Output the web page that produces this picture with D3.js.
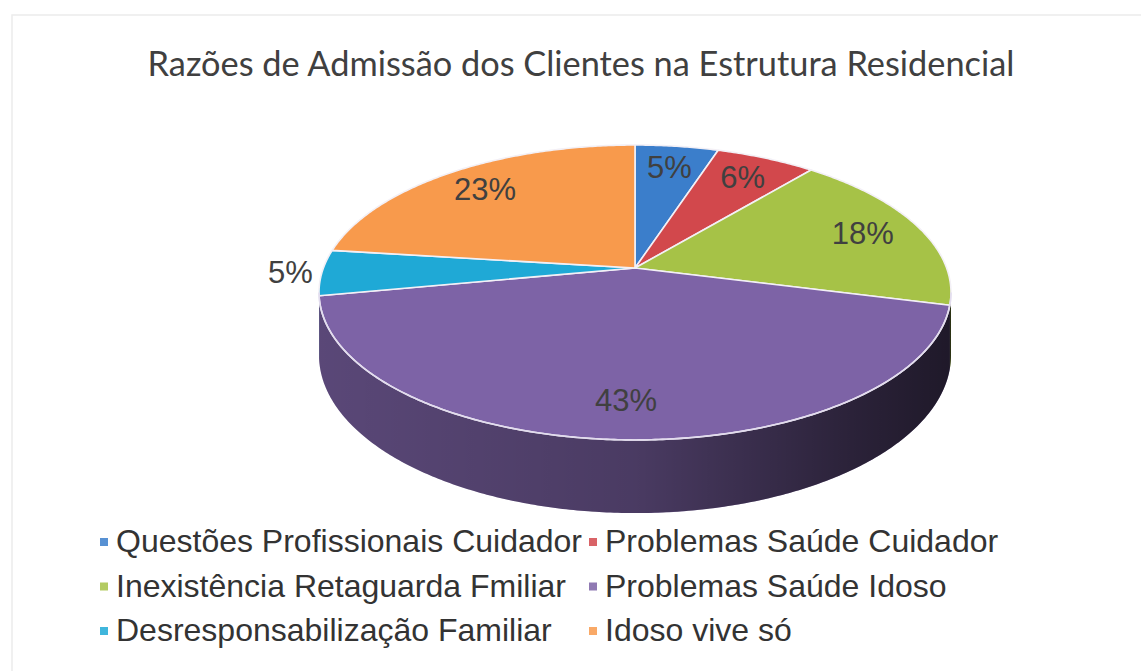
<!DOCTYPE html>
<html>
<head>
<meta charset="utf-8">
<script src="https://cdn.jsdelivr.net/npm/d3@7"></script>
<style>
  html, body { margin: 0; padding: 0; background: #fff; }
  svg { display: block; }
</style>
</head>
<body>
<svg id="chart"></svg>
<script>
// chart data
let title = "Razões de Admissão dos Clientes na Estrutura Residencial";
let categories = ["Questões Profissionais Cuidador", "Problemas Saúde Cuidador",
  "Inexistência Retaguarda Fmiliar", "Problemas Saúde Idoso",
  "Desresponsabilização Familiar", "Idoso vive só"];
let values = [5, 6, 18, 43, 5, 23];
let colors = ["#3b7ecb", "#d2484c", "#a6c247", "#7d63a6", "#1fa9d6", "#f89a4c"];

let W = 1141, H = 671;
let svg = d3.select("#chart").attr("width", W).attr("height", H);

// faint frame of the scanned chart area
svg.append("rect")
  .attr("x", 12).attr("y", 15).attr("width", W).attr("height", H)
  .attr("fill", "none").attr("stroke", "#ececec").attr("stroke-width", 1.5);

// title
let t = svg.append("text")
  .attr("x", 581).attr("y", 62)
  .attr("text-anchor", "middle").attr("dominant-baseline", "central")
  .style("font-family", "Lato, 'Open Sans', sans-serif")
  .style("font-size", "30px").attr("fill", "#404040")
  .text(title);
let tw = t.node().getComputedTextLength();
t.style("font-size", (30 * 867 / tw) + "px");

// perspective projection of the pie disc
let cx = 635, cy = 268, sx = 311.6, sy = 143.4, persp = 0.166, depth = 61;
let project = function (ang, r, drop) {
  let X = r * Math.sin(ang), Z = r * Math.cos(ang);
  let w = 1 + persp * Z;
  return [cx + sx * X / w, cy - sy * Z / w + (drop ? depth / w : 0)];
};
let arcPts = function (a0, a1, drop) {
  let n = Math.max(2, Math.ceil((a1 - a0) / 0.01));
  return d3.range(n + 1).map(i => project(a0 + (a1 - a0) * i / n, 1, drop));
};

let pie = d3.pie().sort(null).startAngle(0).endAngle(2 * Math.PI);
let slices = pie(values);

let line = d3.line();
let sideFrom = Math.acos(-persp), sideTo = 2 * Math.PI - Math.acos(-persp);

let defs = svg.append("defs");
let grad = defs.append("linearGradient").attr("id", "sideShade")
  .attr("gradientUnits", "userSpaceOnUse")
  .attr("x1", cx - sx).attr("x2", cx + sx).attr("y1", 0).attr("y2", 0);
grad.append("stop").attr("offset", 0).attr("stop-color", "#000").attr("stop-opacity", 0.2);
grad.append("stop").attr("offset", 0.5).attr("stop-color", "#000").attr("stop-opacity", 0.34);
grad.append("stop").attr("offset", 0.85).attr("stop-color", "#000").attr("stop-opacity", 0.62);
grad.append("stop").attr("offset", 1).attr("stop-color", "#000").attr("stop-opacity", 0.72);

// side walls (front only)
let sideGroup = svg.append("g").attr("class", "sides");
slices.forEach((s, i) => {
  let a0 = Math.max(s.startAngle, sideFrom), a1 = Math.min(s.endAngle, sideTo);
  if (a1 <= a0) return;
  let pts = arcPts(a0, a1, false).concat(arcPts(a0, a1, true).reverse());
  sideGroup.append("path").attr("d", line(pts) + "Z")
    .attr("fill", d3.color(colors[i]).darker(0.3));
});
let wall = arcPts(sideFrom, sideTo, false).concat(arcPts(sideFrom, sideTo, true).reverse());
sideGroup.append("path").attr("d", line(wall) + "Z").attr("fill", "url(#sideShade)");

// top face
let topGroup = svg.append("g").attr("class", "top");
slices.forEach((s, i) => {
  let pts = [[cx, cy]].concat(arcPts(s.startAngle, s.endAngle, false));
  topGroup.append("path").attr("d", line(pts) + "Z")
    .attr("fill", colors[i])
    .attr("stroke", "#f3f0f6").attr("stroke-width", 1.6).attr("stroke-linejoin", "round");
});
// light rim edge along the front
topGroup.append("path").attr("d", line(arcPts(sideFrom, sideTo, false)))
  .attr("fill", "none").attr("stroke", "#e2dcee").attr("stroke-width", 1.6);

// data labels
let labelGroup = svg.append("g").attr("class", "labels");
slices.forEach((s, i) => {
  let mid = (s.startAngle + s.endAngle) / 2;
  let sideways = Math.abs(Math.sin(mid)) > 0.85;
  let r = (values[i] <= 5 && sideways) ? 1.1 : 0.8;
  let p = project(mid, r, false);
  labelGroup.append("text")
    .attr("x", p[0]).attr("y", p[1])
    .attr("text-anchor", "middle").attr("dominant-baseline", "central")
    .style("font-family", "'Liberation Sans', Arial, sans-serif")
    .style("font-size", "31px").attr("fill", "#404040")
    .text(values[i] + "%");
});

// legend, two columns
let rowY = d3.scalePoint().domain([0, 1, 2]).range([541, 630]);
let colX = d3.scalePoint().domain([0, 1]).range([104, 593]);
let legend = svg.append("g").attr("class", "legend");
categories.forEach((c, i) => {
  let x = colX(i % 2), y = rowY(Math.floor(i / 2));
  legend.append("rect")
    .attr("x", x - 4).attr("y", y - 3).attr("width", 8).attr("height", 8)
    .attr("fill", colors[i]).attr("opacity", 0.85);
  legend.append("text")
    .attr("x", x + 12).attr("y", y)
    .attr("dominant-baseline", "central")
    .style("font-family", "'Liberation Sans', Arial, sans-serif")
    .style("font-size", "32px").attr("fill", "#333")
    .text(c);
});
</script>
</body>
</html>
